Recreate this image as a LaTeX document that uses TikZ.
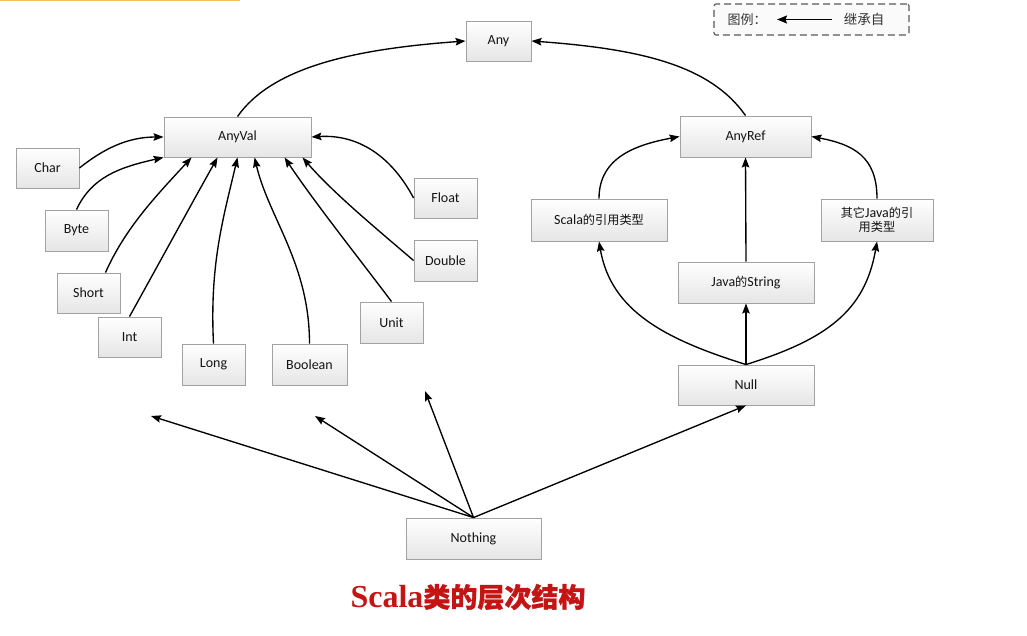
\documentclass[tikz,border=0pt]{standalone}
\usepackage{fontspec}
\setmainfont{Carlito}
\newfontfamily\cjk[Scale=0.87]{Noto Sans CJK SC}
\newfontfamily\cjkt{Noto Sans CJK SC}
\newfontfamily\cjkh[BoldFeatures={FakeBold=1.2}]{Noto Sans CJK SC}
\newfontfamily\titlerm{Liberation Serif}
\usetikzlibrary{arrows.meta,shadows}
\definecolor{boxline}{HTML}{A2A2A2}
\definecolor{titlered}{RGB}{196,20,20}
\definecolor{topbar}{HTML}{F7BE5A}
\begin{document}
\begin{tikzpicture}[x=1pt,y=-1pt,
  box/.style={draw=boxline, line width=0.9pt, top color=white, bottom color=black!10,
    minimum height=40pt, inner sep=0pt, align=center,
    font=\fontsize{14}{15}\selectfont, text=black!92,
    drop shadow={shadow xshift=1.3pt,shadow yshift=-1.3pt,opacity=0.28,fill=black}},
  inh/.style={-{Stealth[length=10pt,width=7.5pt,inset=1.5pt]}, line width=1.35pt},
]
\useasboundingbox (0,0) rectangle (1027,636);
\fill[white] (0,0) rectangle (1027,636);
\draw[topbar, line width=2pt] (0,0.5) -- (240,0.5);

% nodes
\node[box, minimum width=65pt] (any) at (498.5,41) {Any};
\node[box, minimum width=147pt] (anyval) at (237.5,137) {AnyVal};
\node[box, minimum width=131pt, minimum height=41pt] (anyref) at (745.5,136.5) {AnyRef};
\node[box, minimum width=63pt] (char) at (47.5,168) {Char};
\node[box, minimum width=63pt, minimum height=41pt] (byte) at (76.5,230.5) {Byte};
\node[box, minimum width=63pt] (short) at (88.5,293) {Short};
\node[box, minimum width=63pt] (int) at (129.5,337) {Int};
\node[box, minimum width=63pt, minimum height=41pt] (long) at (213.5,364.5) {Long};
\node[box, minimum width=75pt, minimum height=41pt] (boolean) at (309.5,364.5) {Boolean};
\node[box, minimum width=63pt, minimum height=41pt] (unit) at (391.5,322.5) {Unit};
\node[box, minimum width=63pt] (float) at (445.5,198) {Float};
\node[box, minimum width=63pt, minimum height=41pt] (double) at (445.5,260.5) {Double};
\node[box, minimum width=136pt, minimum height=42pt] (scala) at (599,220) {Scala{\cjk 的引用类型}};
\node[box, minimum width=112pt, minimum height=42pt] (other) at (877,220) {{\cjk 其它}Java{\cjk 的引}\\[-1pt]{\cjk 用类型}};
\node[box, minimum width=136pt, minimum height=41pt] (jstring) at (746,282.5) {Java{\cjk 的}String};
\node[box, minimum width=136pt] (null) at (746,385) {Null};
\node[box, minimum width=135pt, minimum height=41pt] (nothing) at (473.5,538.5) {Nothing};

% top level
\draw[inh] (anyval.north) .. controls +(35,-50) and +(-110,8) .. (any.west);
\draw[inh] (anyref.north) .. controls +(-35,-50) and +(110,8) .. (any.east);

% AnyVal children
\draw[inh] (char.east) .. controls +(25,-20) and +(-35,0) .. (anyval.west);
\draw[inh] (byte.north) .. controls +(15,-32) and +(-45,10) .. (anyval.south west);
\draw[inh] ([xshift=17pt]short.north) .. controls +(20,-45) and +(-35,38) .. ([xshift=28pt]anyval.south west);
\draw[inh] (int.north) .. controls +(25,-45) and +(-28,50) .. ([xshift=54pt]anyval.south west);
\draw[inh] (long.north) .. controls +(-4,-80) and +(-14,60) .. (anyval.south);
\draw[inh] (boolean.north) .. controls +(0,-80) and +(14,60) .. ([xshift=91pt]anyval.south west);
\draw[inh] (unit.north) .. controls +(-30,-40) and +(30,45) .. ([xshift=121pt]anyval.south west);
\draw[inh] (double.west) .. controls +(-35,-30) and +(30,35) .. ([xshift=139pt]anyval.south west);
\draw[inh] (float.west) .. controls +(-20,-38) and +(50,-3) .. (anyval.east);

% AnyRef children
\draw[inh] (scala.north) .. controls +(0,-42) and +(-42,8) .. (anyref.west);
\draw[inh] (other.north) .. controls +(0,-42) and +(42,8) .. (anyref.east);
\draw[inh] (jstring.north) -- (anyref.south);
\draw[inh] (null.north) -- (jstring.south);
\draw[inh] (null.north) .. controls +(-80,-25) and +(12,70) .. (scala.south);
\draw[inh] (null.north) .. controls +(80,-25) and +(-12,70) .. (other.south);

% Nothing
\coordinate (t1) at (151,416);
\coordinate (t2) at (315,416);
\coordinate (t3) at (425,391);
\draw[inh] (nothing.north) -- (t1);
\draw[inh] (nothing.north) -- (t2);
\draw[inh] (nothing.north) -- (t3);
\draw[inh] (nothing.north) -- (null.south);

% legend
\node[draw=black!65, line width=1.1pt, dash pattern=on 7pt off 4pt, rounded corners=2pt,
  minimum width=195pt, minimum height=31pt, fill=black!2] (legend) at (811.5,19.5) {};
\node[text=black!80] (lgtext) at (747,19.5) {\cjkt\fontsize{13}{14}\selectfont 图例：};
\coordinate (lgfrom) at (832,19.5);
\coordinate (lgto) at (777,19.5);
\draw[-{Stealth[length=10pt,width=8pt,inset=1.5pt]}, line width=1.5pt] (lgfrom) -- (lgto);
\node[text=black!80] (lgname) at (864,19.5) {\cjkt\fontsize{13.5}{14}\selectfont 继承自};

% title
\node[text=titlered, inner sep=0pt] (title) at (468,597)
  {{\titlerm\bfseries\fontsize{32}{34}\selectfont Scala}{\cjkh\bfseries\fontsize{27}{30}\selectfont 类的层次结构}};
\end{tikzpicture}
\end{document}
